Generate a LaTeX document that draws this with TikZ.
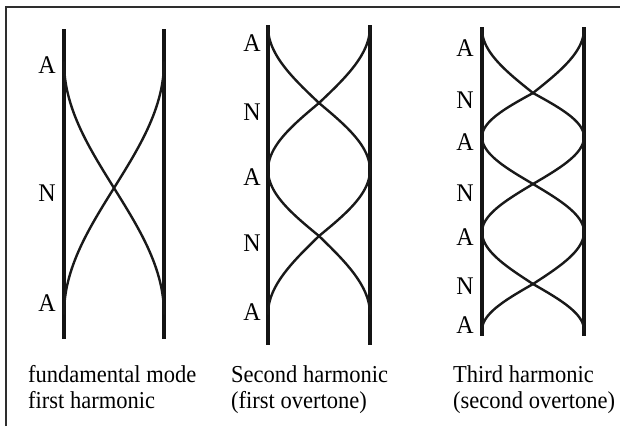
\documentclass[tikz,border=0pt]{standalone}
\usepackage{fontspec}
\setmainfont{Liberation Serif}
\begin{document}
\begin{tikzpicture}[x=1pt,y=-1pt,
  rod/.style={line width=3.4pt, color=black!92},
  wave/.style={line width=2.4pt, line cap=round, color=black!90},
  frame/.style={line width=2pt, color=black!82},
  lbl/.style={font=\fontsize{24}{28}\selectfont, inner sep=0pt, anchor=center, yscale=1.06, transform shape},
  capt/.style={font=\fontsize{22.5}{27}\selectfont, inner sep=0pt, anchor=base west, yscale=1.08, transform shape}]
\useasboundingbox (0,0) rectangle (620,426);
\fill[white] (0,0) rectangle (620,426);
% frame
\coordinate (fb) at (6,426);
\coordinate (fc) at (6,7);
\coordinate (fr) at (620,7);
\draw[frame] (fb) -- (fc) -- (fr);
% rods
\coordinate (p1lt) at (64,29);  \coordinate (p1lb) at (64,339);
\coordinate (p1rt) at (164,29); \coordinate (p1rb) at (164,339);
\coordinate (p2lt) at (268,25); \coordinate (p2lb) at (268,345);
\coordinate (p2rt) at (370,25); \coordinate (p2rb) at (370,345);
\coordinate (p3lt) at (482,27); \coordinate (p3lb) at (482,336);
\coordinate (p3rt) at (584,27); \coordinate (p3rb) at (584,336);
\draw[rod] (p1lt) -- (p1lb);
\draw[rod] (p1rt) -- (p1rb);
\draw[rod] (p2lt) -- (p2lb);
\draw[rod] (p2rt) -- (p2rb);
\draw[rod] (p3lt) -- (p3lb);
\draw[rod] (p3rt) -- (p3rb);
% waves panel 1
\foreach \ya/\yb/\k in {62/188/0, 188/314/1} {
  \foreach \s in {1,-1} {
    \draw[wave] plot[domain=\ya:\yb, samples=50, variable=\t]
      ({114+(\s)*50*cos(90*(\k+(\t-\ya)/(\yb-\ya)))}, {\t});
  }
}
% waves panel 2
\foreach \ya/\yb/\k in {27/103/0, 103/170/1, 170/236/2, 236/314/3} {
  \foreach \s in {1,-1} {
    \draw[wave] plot[domain=\ya:\yb, samples=50, variable=\t]
      ({319+(\s)*51*cos(90*(\k+(\t-\ya)/(\yb-\ya)))}, {\t});
  }
}
% waves panel 3
\foreach \ya/\yb/\k in {29/93/0, 93/137/1, 137/184/2, 184/232/3, 232/284/4, 284/330/5} {
  \foreach \s in {1,-1} {
    \draw[wave] plot[domain=\ya:\yb, samples=50, variable=\t]
      ({533+(\s)*51*cos(90*(\k+(\t-\ya)/(\yb-\ya)))}, {\t});
  }
}
% labels panel 1
\node[lbl] (a11) at (47,65) {A};
\node[lbl] (n11) at (47,193) {N};
\node[lbl] (a12) at (47,303) {A};
% labels panel 2
\node[lbl] (a21) at (252,43) {A};
\node[lbl] (n21) at (252,112) {N};
\node[lbl] (a22) at (252,177) {A};
\node[lbl] (n22) at (252,243) {N};
\node[lbl] (a23) at (252,312) {A};
% labels panel 3
\node[lbl] (a31) at (465,48) {A};
\node[lbl] (n31) at (465,100) {N};
\node[lbl] (a32) at (465,142) {A};
\node[lbl] (n32) at (465,193) {N};
\node[lbl] (a33) at (465,237) {A};
\node[lbl] (n33) at (465,286) {N};
\node[lbl] (a34) at (465,325) {A};
% captions
\node[capt] (c11) at (28,382) {fundamental mode};
\node[capt] (c12) at (28,408) {first harmonic};
\node[capt] (c21) at (231,382) {Second harmonic};
\node[capt] (c22) at (231,408) {(first overtone)};
\node[capt] (c31) at (453,382) {Third harmonic};
\node[capt] (c32) at (453,408) {(second overtone)};
\end{tikzpicture}
\end{document}
